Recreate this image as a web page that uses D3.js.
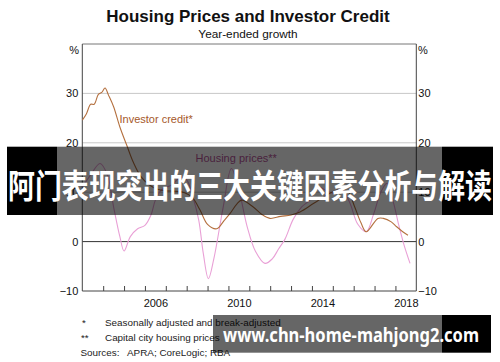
<!DOCTYPE html>
<html>
<head>
<meta charset="utf-8">
<script src="https://cdn.jsdelivr.net/npm/d3@7"></script>
<style>
  body { margin: 0; background: #fff; }
  svg { display: block; }
  text { font-family: "Liberation Sans", Arial, sans-serif; }
</style>
</head>
<body>
<div class="chart"></div>
<script>
// year-ended growth, %
var investorYears = [2003.0, 2003.2, 2003.4, 2003.57, 2003.77, 2003.93, 2004.09, 2004.25, 2004.5, 2004.8,
  2005.13, 2005.45, 2005.8, 2006.2, 2006.6, 2007.0, 2007.45, 2007.9, 2008.26, 2008.64,
  2009.0, 2009.44, 2009.8, 2010.08, 2010.4, 2010.64, 2011.19, 2011.6, 2011.99, 2012.5,
  2013.0, 2013.43, 2014.07, 2014.55, 2015.0, 2015.4, 2015.73, 2016.05, 2016.35, 2016.6,
  2017.16, 2017.42, 2017.8, 2018.06, 2018.35, 2018.6];
var investorValues = [24.6, 25.9, 27.8, 27.8, 29.8, 30.2, 31.1, 29.7, 27.3, 23.2,
  19.5, 16.0, 13.2, 11.5, 10.6, 10.3, 10.2, 9.9, 9.0, 6.4,
  3.5, 2.6, 4.3, 5.7, 7.6, 8.4, 7.0, 5.5, 4.7, 5.1,
  5.4, 6.0, 7.7, 9.0, 10.1, 10.6, 10.1, 7.0, 3.8, 2.0,
  4.7, 4.7, 4.0, 3.0, 2.0, 1.3];

var housingYears = [2003.0, 2003.4, 2003.85, 2004.2, 2004.5, 2004.8, 2005.0, 2005.3, 2005.65, 2006.0,
  2006.3, 2006.5, 2006.8, 2007.3, 2007.7, 2008.0, 2008.3, 2008.58, 2008.8, 2009.04,
  2009.3, 2009.75, 2010.14, 2010.5, 2010.9, 2011.3, 2011.75, 2012.1, 2012.4, 2012.71,
  2013.1, 2013.5, 2013.9, 2014.3, 2014.7, 2015.0, 2015.4, 2015.8, 2016.2, 2016.6,
  2016.95, 2017.3, 2017.6, 2017.9, 2018.15, 2018.4, 2018.7];
var housingValues = [11.0, 13.5, 15.8, 13.5, 7.0, 1.0, -1.9, 1.0, 2.6, 3.3,
  5.5, 8.4, 10.5, 11.5, 13.0, 12.5, 9.0, 4.3, -2.5, -7.5,
  -3.5, 7.0, 14.8, 10.5, 3.0, -2.0, -4.4, -3.5, -1.5, 0.5,
  4.5, 7.0, 8.4, 11.0, 10.3, 9.8, 10.8, 8.0, 3.5, 2.0,
  5.5, 10.0, 11.8, 8.0, 3.5, -0.5, -4.4];

var yTicks = [-10, 0, 10, 20, 30];
var gridTicks = [10, 20, 30];
var yearTicks = [2004, 2005, 2006, 2007, 2008, 2009, 2010, 2011, 2012, 2013, 2014, 2015, 2016, 2017, 2018];
var yearLabels = [2006, 2010, 2014, 2018];

var width = 500, height = 362;
var plotLeft = 82.3, plotRight = 416.3, plotTop = 44, plotBottom = 291;

var svg = d3.select(".chart").append("svg")
    .attr("width", width)
    .attr("height", height);

var x = d3.scaleLinear().domain([2003, 2019]).range([plotLeft, plotRight]);
var y = d3.scaleLinear().domain([-10, 40]).range([plotBottom, plotTop]);

// titles
svg.append("text")
    .attr("x", 248).attr("y", 21.5)
    .attr("text-anchor", "middle")
    .style("font-size", "17px").style("font-weight", "bold")
    .attr("fill", "#111")
    .text("Housing Prices and Investor Credit");
svg.append("text")
    .attr("x", 248).attr("y", 37.5)
    .attr("text-anchor", "middle")
    .style("font-size", "11.8px")
    .attr("fill", "#111")
    .text("Year-ended growth");

// grid
svg.selectAll("line.grid")
    .data(gridTicks)
    .enter()
    .append("line")
    .attr("class", "grid")
    .attr("x1", plotLeft).attr("x2", plotRight)
    .attr("y1", function (d) { return y(d); })
    .attr("y2", function (d) { return y(d); })
    .attr("stroke", "#c8c8c8").attr("stroke-width", 1);

svg.append("line")
    .attr("x1", plotLeft).attr("x2", plotRight)
    .attr("y1", y(0)).attr("y2", y(0))
    .attr("stroke", "#333").attr("stroke-width", 1);

// frame
svg.append("line").attr("x1", plotLeft).attr("x2", plotRight).attr("y1", plotTop).attr("y2", plotTop)
    .attr("stroke", "#777");
svg.append("line").attr("x1", plotLeft).attr("x2", plotLeft).attr("y1", plotTop).attr("y2", plotBottom)
    .attr("stroke", "#444");
svg.append("line").attr("x1", plotRight).attr("x2", plotRight).attr("y1", plotTop).attr("y2", plotBottom)
    .attr("stroke", "#444");

// bottom ticks (year boundaries) and labels (mid-year)
var tickAxis = svg.append("g")
    .attr("transform", "translate(0," + plotBottom + ")")
    .call(d3.axisBottom(x).tickValues(yearTicks).tickSize(-5).tickFormat(""));
tickAxis.select(".domain").remove();
tickAxis.selectAll(".tick line").attr("stroke", "#444");
svg.append("line").attr("x1", plotLeft).attr("x2", plotRight).attr("y1", plotBottom).attr("y2", plotBottom)
    .attr("stroke", "#444");

var labelAxis = svg.append("g")
    .attr("transform", "translate(0," + plotBottom + ")")
    .call(d3.axisBottom(x)
        .tickValues(yearLabels.map(function (d) { return d + 0.5; }))
        .tickSize(0).tickPadding(6)
        .tickFormat(function (d) { return Math.floor(d); }));
labelAxis.select(".domain").remove();
labelAxis.selectAll("text").attr("dy", "0.95em");

// y axes labels
var leftAxis = svg.append("g")
    .attr("transform", "translate(" + plotLeft + ",0)")
    .call(d3.axisLeft(y).tickValues(yTicks).tickSize(0).tickPadding(4));
leftAxis.select(".domain").remove();
var rightAxis = svg.append("g")
    .attr("transform", "translate(" + plotRight + ",0)")
    .call(d3.axisRight(y).tickValues(yTicks).tickSize(0).tickPadding(2));
rightAxis.select(".domain").remove();
svg.selectAll(".tick text")
    .style("font-size", "11px").style("font-family", "Liberation Sans, Arial, sans-serif")
    .attr("fill", "#111");

svg.append("text").attr("x", 79).attr("y", 54).attr("text-anchor", "end")
    .style("font-size", "11px").attr("fill", "#111").text("%");
svg.append("text").attr("x", 418).attr("y", 54)
    .style("font-size", "11px").attr("fill", "#111").text("%");

// series
var line = d3.line()
    .x(function (d) { return x(d[0]); })
    .y(function (d) { return y(d[1]); })
    .curve(d3.curveCatmullRom.alpha(0.5));

svg.append("path")
    .datum(d3.zip(housingYears, housingValues))
    .attr("d", line)
    .attr("fill", "none")
    .attr("stroke", "#e9a0d6").attr("stroke-width", 1.1);

svg.append("path")
    .datum(d3.zip(investorYears, investorValues))
    .attr("d", line)
    .attr("fill", "none")
    .attr("stroke", "#b4703f").attr("stroke-width", 1.1);

svg.append("text").attr("x", 119.5).attr("y", 122.5)
    .style("font-size", "11px").attr("fill", "#a5582a").text("Investor credit*");
svg.append("text").attr("x", 195.5).attr("y", 161.5)
    .style("font-size", "11px").attr("fill", "#b8549a").text("Housing prices**");

// footnotes
var notes = svg.append("g").style("font-size", "9.9px").attr("fill", "#222");
notes.append("text").attr("x", 82).attr("y", 326).text("*");
notes.append("text").attr("x", 105).attr("y", 326).text("Seasonally adjusted and break-adjusted");
notes.append("text").attr("x", 81).attr("y", 341).text("**");
notes.append("text").attr("x", 105).attr("y", 341).text("Capital city housing prices");
notes.append("text").attr("x", 80.5).attr("y", 356).text("Sources:");
notes.append("text").attr("x", 127).attr("y", 356).text("APRA; CoreLogic; RBA");

// overlay banner
svg.append("rect").attr("x", 7).attr("y", 146.7).attr("width", 50).attr("height", 68.3).attr("fill", "#000");
svg.append("rect").attr("x", 442).attr("y", 146.7).attr("width", 51).attr("height", 68.3).attr("fill", "#000");
svg.append("rect").attr("x", 57).attr("y", 146.7).attr("width", 385).attr("height", 68.3)
    .attr("fill", "#000").attr("fill-opacity", 0.6);
svg.append("text")
    .attr("x", 8).attr("y", 197.5)
    .attr("textLength", 484).attr("lengthAdjust", "spacingAndGlyphs")
    .style("font-family", "'Noto Sans CJK SC', sans-serif")
    .style("font-size", "33px").style("font-weight", "bold")
    .attr("fill", "#fff")
    .text("阿门表现突出的三大关键因素分析与解读");

// overlay url box
svg.append("rect").attr("x", 213).attr("y", 315).attr("width", 229).attr("height", 37.7)
    .attr("fill", "#000").attr("fill-opacity", 0.6);
svg.append("rect").attr("x", 442).attr("y", 315).attr("width", 49).attr("height", 37.7).attr("fill", "#000");
svg.append("text")
    .attr("x", 223).attr("y", 341.7)
    .attr("textLength", 256).attr("lengthAdjust", "spacingAndGlyphs")
    .style("font-family", "'Noto Sans', sans-serif")
    .style("font-size", "19px").style("font-weight", "bold")
    .attr("fill", "#fff")
    .text("www.chn-home-mahjong2.com");
</script>
</body>
</html>
